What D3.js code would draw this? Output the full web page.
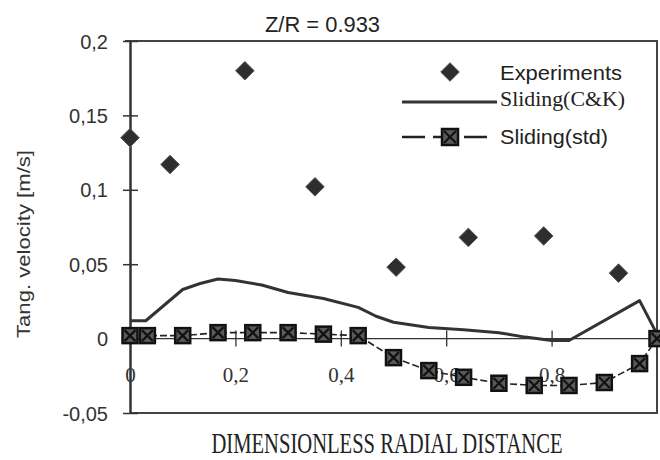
<!DOCTYPE html>
<html>
<head>
<meta charset="utf-8">
<script src="https://cdn.jsdelivr.net/npm/d3@7"></script>
<style>
  html, body { margin: 0; padding: 0; background: #fff; }
  svg { display: block; }
</style>
</head>
<body>
<svg id="chart" width="660" height="460"></svg>
<script>
/* Tangential velocity vs dimensionless radial distance, Z/R = 0.933 */
(function () {
  'use strict';

  // ---- data ----
  var expX = [0, 0.076, 0.218, 0.351, 0.505, 0.642, 0.785, 0.927];
  var expY = [0.135, 0.117, 0.180, 0.102, 0.048, 0.068, 0.069, 0.044];

  var ckX = [0, 0.03, 0.1, 0.133, 0.167, 0.2, 0.25, 0.3, 0.367, 0.433, 0.467, 0.5,
             0.567, 0.633, 0.7, 0.75, 0.8, 0.833, 0.967, 1];
  var ckY = [0.012, 0.012, 0.033, 0.037, 0.040, 0.039, 0.036, 0.031, 0.027, 0.021, 0.015, 0.011,
             0.0075, 0.006, 0.004, 0.001, -0.0013, -0.0013, 0.0255, 0.003];

  var stdX = [0, 0.033, 0.1, 0.167, 0.233, 0.3, 0.367, 0.433, 0.5, 0.567, 0.633,
              0.7, 0.767, 0.833, 0.9, 0.967, 1];
  var stdY = [0.002, 0.002, 0.002, 0.004, 0.004, 0.004, 0.003, 0.002, -0.0128, -0.0215, -0.026,
              -0.030, -0.0315, -0.0315, -0.0295, -0.0168, 0];

  var xTicks = [0, 0.2, 0.4, 0.6, 0.8];
  var xTickLabels = ['0', '0,2', '0,4', '0,6', '0,8'];
  var yTicks = [-0.05, 0, 0.05, 0.1, 0.15, 0.2];
  var yTickLabels = ['-0,05', '0', '0,05', '0,1', '0,15', '0,2'];

  var legendLabels = ['Experiments', 'Sliding(C&K)', 'Sliding(std)'];

  // ---- layout ----
  var svg = d3.select('#chart');
  var left = 130, top = 41, right = 657, bottom = 413;
  var ink = '#222';
  var sans = 'Arial, "Liberation Sans", sans-serif';
  var serif = '"Times New Roman", "Liberation Serif", serif';

  var x = d3.scaleLinear().domain([0, 1]).range([left, right]);
  var y = d3.scaleLinear().domain([-0.05, 0.2]).range([bottom, top]);

  // frame (top, right, bottom)
  svg.append('path')
    .attr('d', 'M' + (left - 5) + ',' + top + 'H' + right + 'V' + bottom + 'H' + left)
    .attr('fill', 'none').attr('stroke', '#444').attr('stroke-width', 2);

  // y axis with ticks crossing the line
  var yAxis = svg.append('g')
    .attr('transform', 'translate(' + left + ',0)')
    .call(d3.axisLeft(y).tickValues(yTicks).tickSize(0)
      .tickFormat(function (d, i) { return yTickLabels[i]; }));
  yAxis.select('.domain').attr('stroke', '#333').attr('stroke-width', 2.5);
  yAxis.selectAll('.tick line').attr('x1', -7).attr('x2', 8)
    .attr('stroke', '#333').attr('stroke-width', 1.5);
  yAxis.selectAll('.tick text')
    .attr('x', -22).attr('dy', '0.35em')
    .attr('font-family', sans).attr('font-size', 20).attr('fill', '#333');

  // zero line acting as x axis
  var xAxis = svg.append('g')
    .attr('transform', 'translate(0,' + y(0) + ')')
    .call(d3.axisBottom(x).tickValues(xTicks).tickSize(0)
      .tickFormat(function (d, i) { return xTickLabels[i]; }));
  xAxis.select('.domain').attr('d', 'M' + left + ',0H' + right)
    .attr('stroke', '#333').attr('stroke-width', 1.3);
  xAxis.selectAll('.tick line')
    .attr('y1', -8).attr('y2', 8)
    .attr('stroke', '#333').attr('stroke-width', 1.3)
    .attr('display', function (d) { return d === 0 ? 'none' : null; });
  xAxis.selectAll('.tick text')
    .attr('y', 43).attr('dy', 0)
    .attr('font-family', serif).attr('font-size', 21).attr('fill', '#333');

  var std = stdX.map(function (v, i) { return [v, stdY[i]]; });
  var ck = ckX.map(function (v, i) { return [v, ckY[i]]; });
  var line = d3.line().x(function (d) { return x(d[0]); }).y(function (d) { return y(d[1]); });

  // Sliding(std) dashed line
  svg.append('path').datum(std).attr('d', line)
    .attr('fill', 'none').attr('stroke', ink).attr('stroke-width', 1.6)
    .attr('stroke-dasharray', '7,3');

  // Sliding(C&K) solid line
  svg.append('path').datum(ck).attr('d', line)
    .attr('fill', 'none').attr('stroke', '#333').attr('stroke-width', 3)
    .attr('stroke-linejoin', 'round');

  function squareMark(g, s) {
    g.append('rect').attr('x', -s / 2).attr('y', -s / 2).attr('width', s).attr('height', s)
      .attr('fill', '#5a5a5a').attr('stroke', '#111').attr('stroke-width', 2.5);
    g.append('path')
      .attr('d', 'M' + (-s / 2 + 2) + ',' + (-s / 2 + 2) + 'L' + (s / 2 - 2) + ',' + (s / 2 - 2) +
                 'M' + (s / 2 - 2) + ',' + (-s / 2 + 2) + 'L' + (-s / 2 + 2) + ',' + (s / 2 - 2))
      .attr('stroke', '#111').attr('stroke-width', 2.2);
  }

  svg.append('g').selectAll('g').data(std).join('g')
    .attr('transform', function (d) { return 'translate(' + x(d[0]) + ',' + y(d[1]) + ')'; })
    .each(function () { squareMark(d3.select(this), 15); });

  // Experiments diamonds
  var diamond = d3.symbol().type(d3.symbolDiamond2).size(220);
  svg.append('g').selectAll('path')
    .data(expX.map(function (v, i) { return [v, expY[i]]; }))
    .join('path')
    .attr('d', diamond)
    .attr('transform', function (d) { return 'translate(' + x(d[0]) + ',' + y(d[1]) + ')'; })
    .attr('fill', '#2e2e2e').attr('stroke', '#555').attr('stroke-width', 1);

  // legend
  var lg = svg.append('g');
  lg.append('path').attr('d', diamond).attr('transform', 'translate(450,72)')
    .attr('fill', '#2e2e2e').attr('stroke', '#555').attr('stroke-width', 1);
  lg.append('text').attr('x', 500).attr('y', 80).text(legendLabels[0])
    .attr('font-family', sans).attr('font-size', 21).attr('fill', ink)
    .attr('textLength', 122).attr('lengthAdjust', 'spacingAndGlyphs');

  lg.append('line').attr('x1', 402).attr('x2', 497).attr('y1', 102).attr('y2', 102)
    .attr('stroke', '#333').attr('stroke-width', 3);
  lg.append('text').attr('x', 500).attr('y', 106).text(legendLabels[1])
    .attr('font-family', serif).attr('font-size', 22).attr('fill', ink)
    .attr('textLength', 125).attr('lengthAdjust', 'spacingAndGlyphs');

  lg.append('line').attr('x1', 402).attr('x2', 492).attr('y1', 137).attr('y2', 137)
    .attr('stroke', ink).attr('stroke-width', 2.5).attr('stroke-dasharray', '23,8');
  squareMark(lg.append('g').attr('transform', 'translate(450,137)'), 16);
  lg.append('text').attr('x', 500).attr('y', 144).text(legendLabels[2])
    .attr('font-family', sans).attr('font-size', 21).attr('fill', ink)
    .attr('textLength', 108).attr('lengthAdjust', 'spacingAndGlyphs');

  // title and axis titles
  svg.append('text').attr('x', 265).attr('y', 32).text('Z/R = 0.933')
    .attr('font-family', sans).attr('font-size', 22).attr('fill', ink)
    .attr('textLength', 115).attr('lengthAdjust', 'spacingAndGlyphs');

  svg.append('text')
    .attr('transform', 'translate(30,244) rotate(-90)')
    .attr('text-anchor', 'middle').text('Tang. velocity [m/s]')
    .attr('font-family', sans).attr('font-size', 18).attr('fill', '#333')
    .attr('textLength', 188).attr('lengthAdjust', 'spacingAndGlyphs');

  // tall, condensed serif title: stretch vertically instead of a huge font size
  svg.append('text')
    .attr('transform', 'translate(387,453) scale(1,1.4)')
    .attr('text-anchor', 'middle').text('DIMENSIONLESS RADIAL DISTANCE')
    .attr('font-family', serif).attr('font-size', 21).attr('fill', ink)
    .attr('textLength', 351).attr('lengthAdjust', 'spacingAndGlyphs');
})();
</script>
</body>
</html>
